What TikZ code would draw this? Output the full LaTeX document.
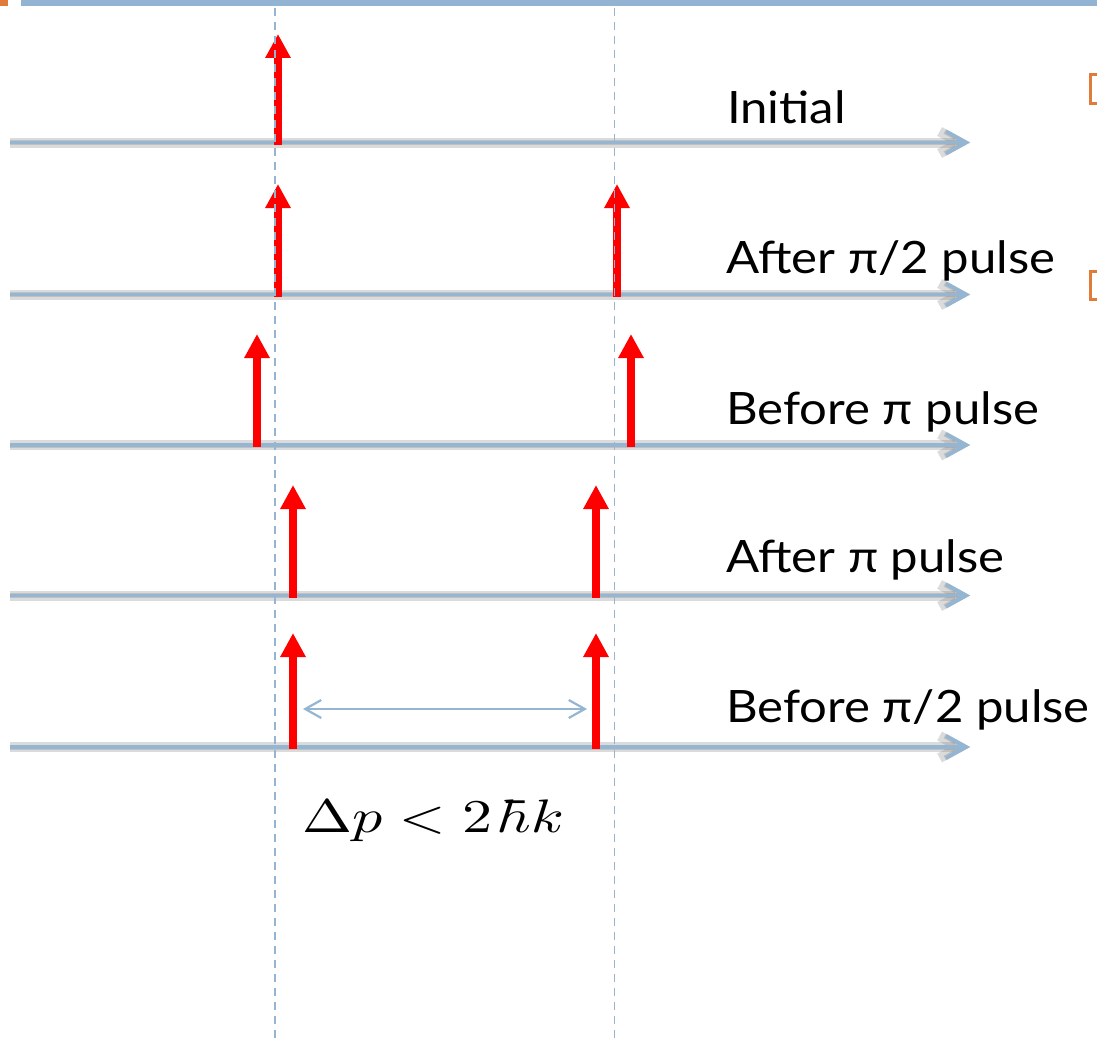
\documentclass[tikz,border=0pt]{standalone}
\usepackage{fontspec}
\setmainfont{Lato}[FakeStretch=1.1]
\usetikzlibrary{arrows.meta}
\definecolor{axisblue}{HTML}{94B6D2}
\definecolor{barblue}{HTML}{93B3D2}
\definecolor{accent}{HTML}{E07B39}
\definecolor{peakred}{HTML}{FF0000}
\tikzset{
  axisline/.style={draw=axisblue, line width=3.8pt,
    -{Straight Barb[length=20pt,width=22pt,line width=3.8pt]}},
  axisshade/.style={draw=black!55, line width=#1, opacity=0.25,
    -{Straight Barb[length=20pt,width=22pt,line width=#1]}},
  peak/.style={draw=peakred, line width=8pt,
    -{Triangle[length=24pt,width=24pt]}},
  guide/.style={draw=axisblue, line width=1.5pt, dash pattern=on 8pt off 6pt},
  gap/.style={draw=axisblue, line width=2.2pt,
    {Straight Barb[length=16pt,width=18pt]}-{Straight Barb[length=16pt,width=18pt]}},
  stage/.style={anchor=base west, inner sep=0pt, font=\fontsize{44.6}{50}\selectfont},
  bullet/.style={draw=accent, line width=3pt}
}
\begin{document}
\begin{tikzpicture}[x=1pt,y=-1pt]
\useasboundingbox (0,0) rectangle (1097,1041);
\fill[white] (0,0) rectangle (1097,1041);

% header bar and corner mark
\fill[barblue] (21,0) rectangle (1097,6);
\fill[accent] (0,0) rectangle (8,6);

% partially visible bullets on the right edge
\draw[bullet] (1100,74.5) -- (1090.5,74.5) -- (1090.5,103) -- (1100,103);
\draw[bullet] (1100,271.5) -- (1090.5,271.5) -- (1090.5,299) -- (1100,299);

% momentum axes with soft shadows
\foreach \name/\y in {a/142.5, b/294.5, c/445, d/595.5, e/747} {
  \coordinate (\name0) at (10,\y);
  \coordinate (\name1) at (970,\y);
  \begin{scope}[yshift=-7pt]
    \draw[axisshade=10pt] (\name0) -- (\name1);
    \draw[axisshade=5pt] (\name0) -- (\name1);
  \end{scope}
  \draw[axisline] (\name0) -- (\name1);
}

% momentum peaks
\foreach \name/\x/\y/\t in {pa/278/142.5/34, pb1/278/294.5/184, pb2/617/294.5/184,
    pc1/257/445/334, pc2/631/445/334, pd1/293/595.5/485, pd2/596/595.5/485,
    pe1/293/747/633, pe2/596/747/633} {
  \coordinate (\name base) at (\x,\y+2);
  \coordinate (\name top) at (\x,\t);
  \draw[peak] (\name base) -- (\name top);
}

% stage labels
\node[stage] (l1) at (727,123) {Initial};
\node[stage] (l2) at (726,273) {After π/2 pulse};
\node[stage] (l3) at (726,424) {Before π pulse};
\node[stage] (l4) at (726,572) {After π pulse};
\node[stage] (l5) at (726,722) {Before π/2 pulse};

% separation of the peaks
\coordinate (g0) at (303,709);
\coordinate (g1) at (587,709);
\draw[gap] (g0) -- (g1);
\node[anchor=base, inner sep=0pt, xscale=6, yscale=4.7] (dp) at (433,832.7) {$\Delta p < 2\,\hbar k$};

% reference momenta
\coordinate (v0) at (275,8);
\coordinate (v1) at (275,1041);
\coordinate (w0) at (614.5,8);
\coordinate (w1) at (614.5,1041);
\draw[guide] (v0) -- (v1);
\draw[guide] (w0) -- (w1);
\end{tikzpicture}
\end{document}
